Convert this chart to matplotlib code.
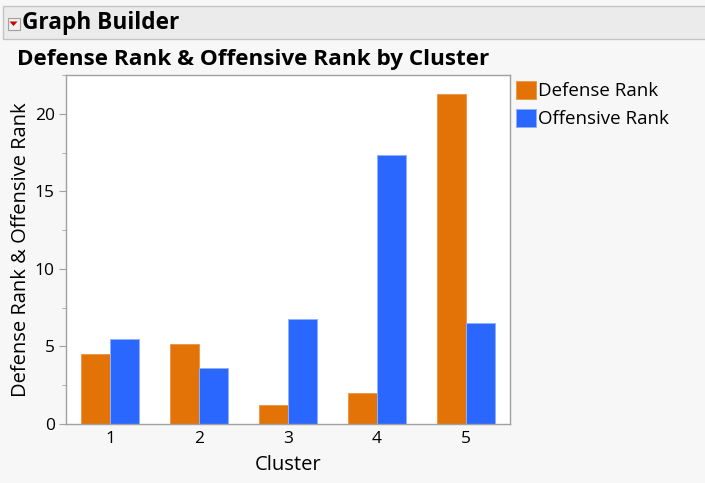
import matplotlib
matplotlib.use("Agg")
import matplotlib.pyplot as plt
import numpy as np
from matplotlib.patches import Rectangle, Polygon
from matplotlib.ticker import MultipleLocator

clusters = ["1", "2", "3", "4", "5"]
defense_rank = [4.5, 5.15, 1.2, 2.0, 21.25]
offensive_rank = [5.5, 3.6, 6.8, 17.35, 6.5]

plt.rcParams['font.family'] = ['Open Sans', 'DejaVu Sans']

W, H = 705, 483
fig = plt.figure(figsize=(W/100, H/100), dpi=100, facecolor='#f7f7f7')

# header bar
fig.patches.append(Rectangle((3/W, 1-39/H), 710/W, 33/H, transform=fig.transFigure,
                             facecolor='#ebebeb', edgecolor='#c4c4c4', lw=1))
fig.patches.append(Rectangle((7.5/W, 1-29.5/H), 12/W, 11/H, transform=fig.transFigure,
                             facecolor='#f0f0f0', edgecolor='#a0a0a0', lw=0.8))
fig.patches.append(Polygon([(9.5/W, 1-21.5/H), (17.5/W, 1-21.5/H), (13.5/W, 1-26/H)],
                           closed=True, transform=fig.transFigure, facecolor='#cc0000', edgecolor='none'))
fig.text(22/W, 1-23/H, "Graph Builder", fontsize=16.3, fontweight='bold', va='center', ha='left')
fig.text(17/W, 1-59/H, "Defense Rank & Offensive Rank by Cluster", fontsize=16.2,
         fontweight='bold', va='center', ha='left')

ax = fig.add_axes([66/W, 1-424/H, (510-66)/W, (424-75)/H])
ax.set_facecolor('white')
x = np.arange(len(clusters))
bw = 0.326
ax.bar(x - bw/2, defense_rank, width=bw, color='#e37306', edgecolor='#eb9a4c', lw=0.7,
       label='Defense Rank')
ax.bar(x + bw/2, offensive_rank, width=bw, color='#2a67ff', edgecolor='#8fb0ff', lw=0.7,
       label='Offensive Rank')
ax.set_xlim(-0.5, 4.5)
ax.set_ylim(0, 22.5)
ax.set_xticks(x)
ax.set_xticklabels(clusters)
ax.yaxis.set_major_locator(MultipleLocator(5))
ax.yaxis.set_minor_locator(MultipleLocator(2.5))
for s in ax.spines.values():
    s.set_color('#a0a0a0')
    s.set_linewidth(1)
ax.tick_params(axis='y', which='major', length=5, color='#a0a0a0', labelsize=12.5, pad=3)
ax.tick_params(axis='y', which='minor', length=3, color='#a0a0a0')
ax.tick_params(axis='x', length=0, labelsize=12.5, pad=5)
ax.set_xlabel("Cluster", fontsize=14.5, labelpad=6)
ax.set_ylabel("Defense Rank & Offensive Rank", fontsize=14.5, labelpad=3)

leg = fig.legend(loc='upper left', bbox_to_anchor=(516/W, 1-81/H), frameon=False,
                 fontsize=13.5, handlelength=1.05, handleheight=1.1, handletextpad=0.15,
                 labelspacing=0.45, borderaxespad=0, borderpad=0)

fig.savefig("out.png", dpi=100, facecolor=fig.get_facecolor())
